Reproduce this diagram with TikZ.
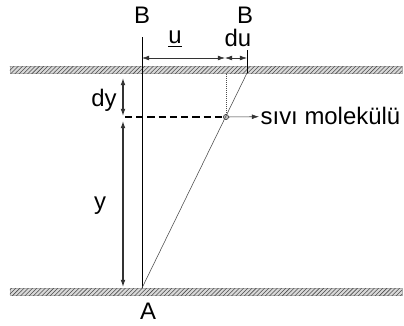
\documentclass[tikz,border=0pt]{standalone}
\usepackage{fontspec}
\setmainfont{Liberation Sans}
\usetikzlibrary{positioning,arrows.meta,patterns}

\begin{document}
\begin{tikzpicture}[x=0.025cm,y=-0.025cm, >={Latex[length=1.8mm,width=1.2mm]},
  plate/.style={draw=gray!60,fill=gray!30,minimum width=9.8cm,minimum height=0.175cm,
    inner sep=0pt,postaction={pattern=north east lines,pattern color=gray!60!black}},
  lbl/.style={font=\fontsize{17}{20}\selectfont,inner sep=1pt},
  dim/.style={<->,gray!40!black,thick}]
\useasboundingbox (0,0) rectangle (404,325);
% plates
\node[plate] (topplate) at (206,69.5) {};
\node[plate] (botplate) at (206,291.5) {};
% points
\coordinate (A) at (142,288);
\coordinate (Btop) at (142,37);
\coordinate (C) at (247,73);
\coordinate (Ctop) at (247,50);
\coordinate (U) at (225,58);
\coordinate (Uleft) at (142,58);
\coordinate (Dtop) at (226,73);
\coordinate (dya) at (123,78);
\coordinate (dyb) at (123,116);
\coordinate (ya) at (123,121);
\coordinate (yb) at (123,287);
\coordinate (L) at (125,117);
\node[circle,draw=gray!40!black,fill=gray!50,inner sep=1.3pt] (mol) at (226,117) {};
% labels
\node[lbl] (B1) at (142,15) {B};
\node[lbl] (B2) at (245,15) {B};
\node[lbl] (u) at (175,39) {\underline{u}};
\node[lbl] (du) at (238,38) {du};
\node[lbl] (dy) at (104,100) {dy};
\node[lbl] (y) at (100,206) {y};
\node[lbl] (A1) at (148,311) {A};
\node[lbl,anchor=west] (sivi) at (259,116) {sıvı molekülü};
% lines
\draw (Btop) -- (A);
\draw (Ctop) -- (C);
\draw[gray!60!black] (A) -- (C);
\draw[dim,thin] (Uleft) -- (U);
\draw[dim,thin] (U) -- (Ctop |- U);
\draw[dim] (dya) -- (dyb);
\draw[dim] (ya) -- (yb);
\draw[dashed,thick,dash pattern=on 5pt off 3pt] (L) -- (mol);
\draw[->,gray!40!black] (mol) -- (sivi);
\draw[densely dotted,gray!60!black] (mol) -- (Dtop);
\end{tikzpicture}
\end{document}
